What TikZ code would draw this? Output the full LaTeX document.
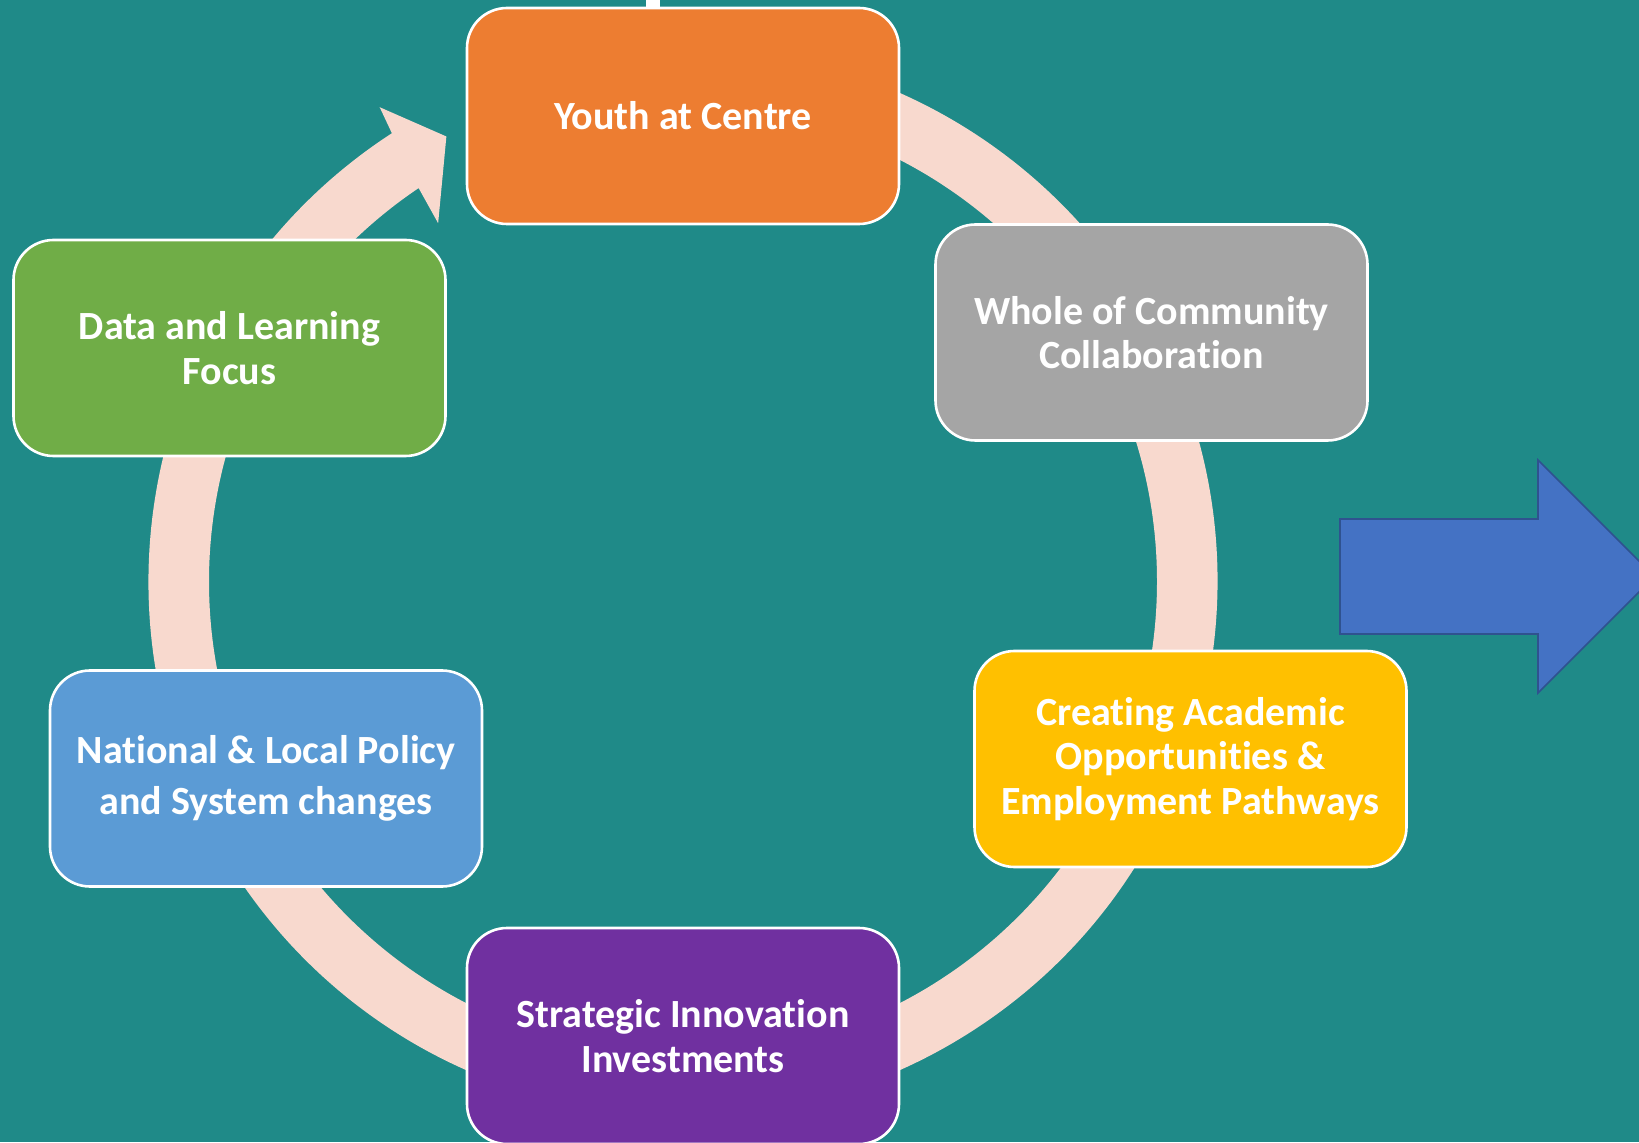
\documentclass[tikz,border=0pt]{standalone}
\usepackage{fontspec}
\setmainfont{Carlito}[Ligatures=NoCommon]
\definecolor{tealbg}{RGB}{31,138,136}
\definecolor{ringc}{RGB}{248,217,206}
\definecolor{orangebox}{RGB}{237,125,49}
\definecolor{greybox}{RGB}{165,165,165}
\definecolor{yellowbox}{RGB}{255,192,0}
\definecolor{purplebox}{RGB}{112,48,160}
\definecolor{bluebox}{RGB}{91,155,213}
\definecolor{greenbox}{RGB}{112,173,71}
\definecolor{arrowblue}{RGB}{68,114,196}
\definecolor{arrowedge}{RGB}{47,82,143}
\begin{document}
\begin{tikzpicture}[x=0.5pt,y=0.5pt,
  stage/.style={draw=white,line width=1.3pt,rounded corners=20pt,
    minimum width=216pt,minimum height=108pt,align=center,text=white,
    font=\bfseries\fontsize{20}{22.3}\selectfont}]
\useasboundingbox (0,0) rectangle (1639,1142);
\clip (0,0) rectangle (1639,1142);
\fill[tealbg] (0,0) rectangle (1639,1142);

% circular arrow
\begin{scope}[shift={(683,560.5)}]
\fill[ringc] (123.9:474) -- (124.35:434) -- (118:504) -- (122.6:563) -- (123:534.5)
  arc[start angle=123,end angle=450,radius=534.5] -- (450:474)
  arc[start angle=450,end angle=123.9,radius=474] -- cycle;
\end{scope}

\fill[white] (646,1128) rectangle (660,1142);

\node[stage,fill=orangebox] (yc) at (683,1026) {Youth at Centre};
\node[stage,fill=greybox] (wc) at (1151.5,809.5) {Whole of Community\\Collaboration};
\node[stage,fill=yellowbox] (ca) at (1190.5,383) {Creating Academic\\Opportunities \&\\Employment Pathways};
\node[stage,fill=purplebox] (si) at (683,106) {Strategic Innovation\\Investments};
\node[stage,fill=bluebox,font=\bfseries\fontsize{20}{25.5}\selectfont] (np) at (266,363.5) {National \& Local Policy\\and System changes};
\node[stage,fill=greenbox] (dl) at (229.5,794) {Data and Learning\\Focus};

% big arrow on the right
\draw[fill=arrowblue,draw=arrowedge,line width=0.8pt] (1340,623) -- (1538,623) -- (1538,682)
  -- (1654.5,565.5) -- (1538,449) -- (1538,508) -- (1340,508) -- cycle;
\end{tikzpicture}
\end{document}
